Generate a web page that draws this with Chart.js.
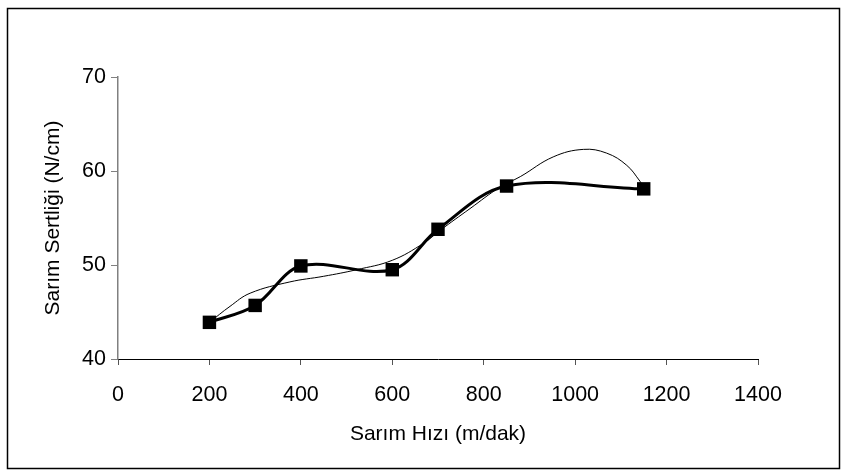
<!DOCTYPE html>
<html>
<head>
<meta charset="utf-8">
<script src="https://cdn.jsdelivr.net/npm/chart.js@4"></script>
<style>
  html, body { margin: 0; padding: 0; background: #fff; }
  #wrap { width: 849px; height: 475px; position: relative; }
</style>
</head>
<body>
<div id="wrap"><canvas id="c" width="849" height="475"></canvas></div>
<script>
// Data
const speeds   = [200, 300, 400, 600, 700, 850, 1150];
const hardness = [43.9, 45.7, 49.9, 49.5, 53.8, 58.4, 58.1];

// Thin trend curve
const trendX = [200, 245, 289, 376, 450, 522, 600, 668, 705, 770, 836, 880, 952, 1018, 1069, 1113, 1142, 1150];
const trendY = [43.9, 45.6, 47.0, 48.2, 48.8, 49.5, 50.5, 52.3, 53.7, 56.0, 58.3, 59.4, 61.5, 62.3, 61.9, 60.6, 58.9, 58.3];

const xTicks = [0, 200, 400, 600, 800, 1000, 1200, 1400];
const yTicks = [40, 50, 60, 70];

const xTitle = 'Sarım Hızı (m/dak)';
const yTitle = 'Sarım Sertliği (N/cm)';

const FONT = { family: '"Liberation Sans", Arial, sans-serif', size: 21 };
const TICKFONT = { family: '"Liberation Sans", Arial, sans-serif', size: 21.5 };

const frame = {
  id: 'frame',
  beforeDraw(chart) {
    const ctx = chart.ctx;
    ctx.save();
    ctx.fillStyle = '#fff';
    ctx.fillRect(0, 0, chart.width, chart.height);
    ctx.strokeStyle = '#000';
    ctx.lineWidth = 1.5;
    ctx.strokeRect(7.5, 8.5, 832, 460);
    ctx.restore();
  }
};

new Chart(document.getElementById('c'), {
  type: 'scatter',
  data: {
    datasets: [
      {
        label: 'main',
        data: speeds.map((x, i) => ({ x, y: hardness[i] })),
        showLine: true,
        borderColor: '#000',
        borderWidth: 3,
        tension: 0.35,
        pointStyle: 'rect',
        pointRadius: 9.5,
        pointBackgroundColor: '#000',
        pointBorderColor: '#000',
        pointBorderWidth: 0,
        order: 0
      },
      {
        label: 'trend',
        data: trendX.map((x, i) => ({ x, y: trendY[i] })),
        showLine: true,
        borderColor: '#000',
        borderWidth: 1,
        tension: 0.4,
        pointRadius: 0,
        order: 1
      }
    ]
  },
  options: {
    responsive: false,
    animation: false,
    devicePixelRatio: 1,
    layout: { padding: { left: 0, right: 91, top: 77, bottom: 0 } },
    plugins: { legend: { display: false }, tooltip: { enabled: false } },
    scales: {
      x: {
        type: 'linear',
        min: xTicks[0],
        max: xTicks[xTicks.length - 1],
        afterBuildTicks(s) { s.ticks = xTicks.map(v => ({ value: v })); },
        afterFit(s) { s.height = 475 - 359; },
        grid: { drawOnChartArea: false, drawTicks: true, tickLength: 6, color: '#555' },
        border: { color: '#000', width: 1 },
        ticks: { color: '#000', font: TICKFONT, padding: 17, maxRotation: 0, callback: v => String(v) },
        title: { display: true, text: xTitle, color: '#000', font: FONT, padding: { top: 0, bottom: 28 } }
      },
      y: {
        type: 'linear',
        min: yTicks[0],
        max: yTicks[yTicks.length - 1],
        afterBuildTicks(s) { s.ticks = yTicks.map(v => ({ value: v })); },
        afterFit(s) { s.width = 118; },
        grid: { drawOnChartArea: false, drawTicks: true, tickLength: 7, color: '#808080' },
        border: { color: '#808080', width: 1.5 },
        ticks: { color: '#000', font: TICKFONT, padding: 5, callback: v => String(v) },
        title: { display: true, text: yTitle, color: '#000', font: FONT, padding: { top: 41, bottom: 0 } }
      }
    }
  },
  plugins: [frame]
});
</script>
</body>
</html>
